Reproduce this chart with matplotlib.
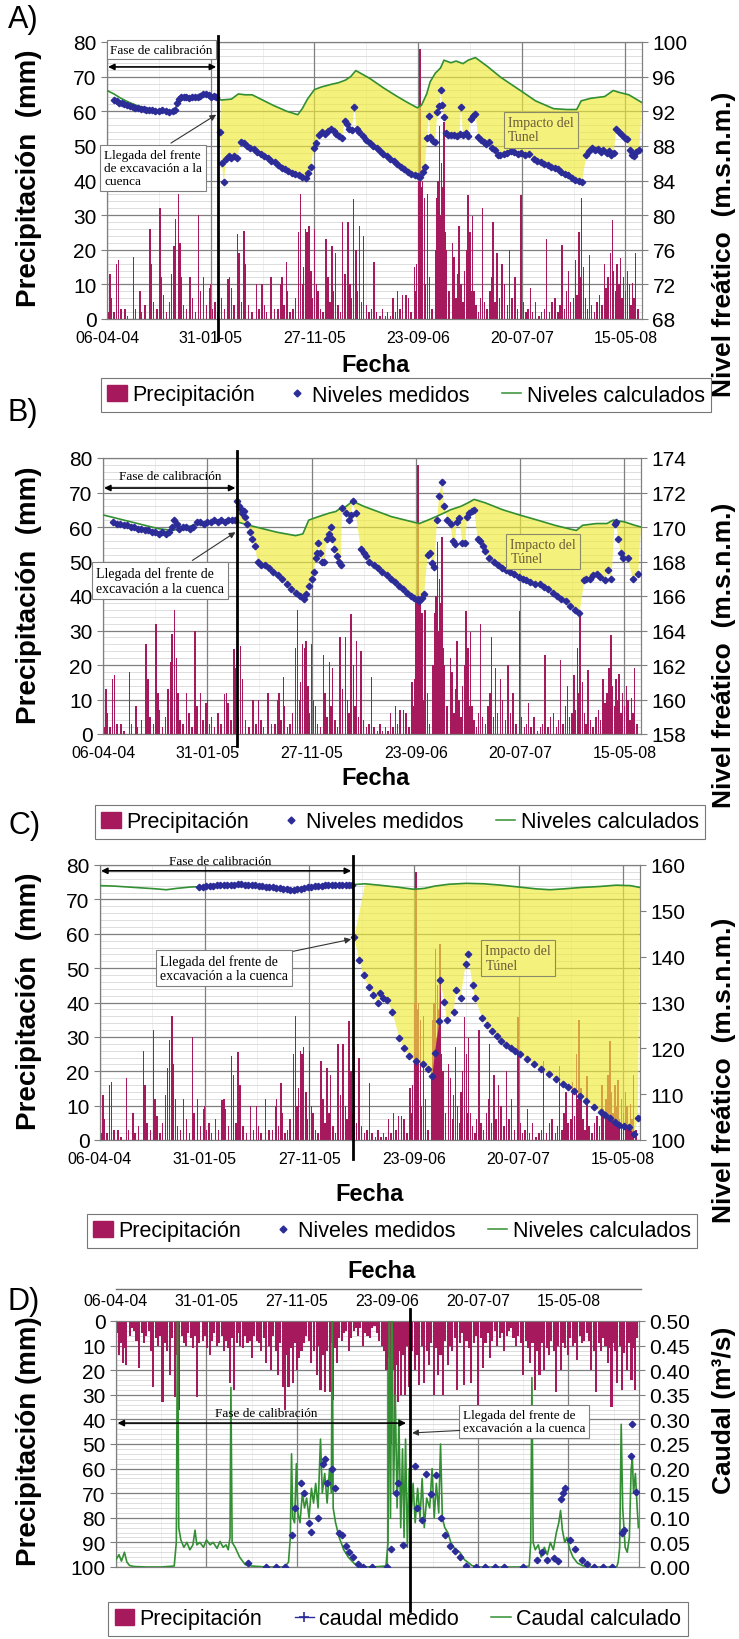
import numpy as np
import matplotlib
matplotlib.use('Agg')
import matplotlib.pyplot as plt
import matplotlib.transforms as mtransforms
from matplotlib.lines import Line2D
from matplotlib.patches import Patch
from matplotlib.ticker import MultipleLocator, FormatStrFormatter

plt.rcParams['font.family'] = ['Liberation Sans', 'DejaVu Sans']

# ---------------- data (x in days since 06-04-04) ----------------
date_ticks = [0, 300, 600, 900, 1200, 1500]
date_labels = ['06-04-04', '31-01-05', '27-11-05', '23-09-06', '20-07-07', '15-05-08']

# daily rain used in panels A, B, C (day, mm)
rain_abc = [(3, 2), (9, 13), (12, 6), (20, 2), (28, 16), (33, 17), (40, 3), (52, 3), (60, 1), (76, 18),
            (82, 3), (95, 8), (100, 2), (110, 4), (124, 26), (129, 16), (135, 5), (145, 3), (153, 32),
            (158, 12), (163, 7), (172, 2), (180, 5), (187, 13), (194, 21), (199, 29), (206, 36), (211, 22),
            (216, 12), (222, 4), (230, 3), (240, 12), (248, 6), (256, 2), (265, 30), (270, 8), (280, 12),
            (288, 4), (296, 9), (300, 10), (306, 3), (312, 5), (320, 2), (331, 6), (340, 3), (350, 11.5),
            (355, 12), (360, 9), (368, 4), (377, 24.5), (382, 19), (390, 5), (396, 25.5), (401, 16),
            (410, 4), (420, 2), (432, 10), (440, 3), (448, 10), (455, 4), (462, 2), (475, 12), (485, 3),
            (495, 3), (504, 10), (506, 12), (512, 4), (519, 16.5), (523, 8), (530, 2), (538, 3), (545, 6),
            (554, 25), (560, 36), (565, 10), (569, 15), (574, 26), (579, 25), (584, 27), (590, 14),
            (595, 6), (600, 26), (606, 10), (611, 8), (618, 3), (625, 2), (634, 23), (639, 12), (645, 5),
            (651, 21), (656, 8), (661, 19), (668, 4), (675, 2), (682, 28), (689, 13), (697, 28), (703, 10),
            (708, 6), (714, 34.7), (720, 20), (725, 8), (730, 27), (736, 5), (742, 24), (750, 4), (758, 2),
            (765, 3), (773, 16.5), (780, 2), (790, 1), (797, 3), (805, 1), (812, 2), (820, 1), (827, 6),
            (834, 2), (841, 8), (848, 3), (855, 7), (865, 7), (872, 6), (880, 2), (889, 15), (893, 8),
            (896, 16), (901, 40), (906, 78), (910, 38), (913, 40), (918, 35), (922, 10), (927, 36),
            (933, 12), (940, 3), (950, 20), (955, 35), (958, 40), (962, 55.7), (965, 30), (968, 45),
            (972, 38), (975, 57), (979, 25), (983, 20), (990, 8), (999, 22), (1004, 18), (1010, 6),
            (1014, 13), (1019, 27), (1024, 10), (1030, 5), (1035, 14), (1040, 20), (1045, 35.7), (1050, 25),
            (1053, 8), (1057, 29.7), (1062, 8), (1068, 4), (1075, 2), (1080, 6), (1086, 32), (1092, 5),
            (1100, 3), (1108, 8), (1113, 12), (1117, 28), (1123, 5), (1129, 19), (1135, 6), (1143, 16),
            (1150, 10), (1158, 4), (1165, 20), (1172, 6), (1180, 12), (1188, 3), (1198, 35.7), (1205, 5),
            (1212, 2), (1218, 3), (1225, 9), (1232, 2), (1240, 5), (1250, 1), (1258, 2), (1265, 3),
            (1272, 23), (1280, 2), (1288, 5), (1296, 6), (1305, 2), (1311, 4), (1317, 21.5), (1324, 3),
            (1330, 8), (1336, 14), (1342, 5), (1350, 6), (1355, 17), (1360, 7), (1366, 25), (1370, 12),
            (1373, 35), (1379, 15), (1385, 6), (1390, 3), (1396, 18.5), (1402, 4), (1410, 2), (1418, 5),
            (1425, 7), (1432, 4), (1439, 16), (1444, 9), (1450, 12), (1456, 19), (1462, 28.7), (1466, 14),
            (1471, 8), (1476, 16), (1481, 10), (1485, 17.5), (1490, 6), (1495, 12), (1500, 8), (1506, 14),
            (1511, 10), (1516, 4), (1520, 10.5), (1525, 6), (1530, 19), (1536, 3)]

# panel A levels (m.s.n.m.)
calc_a = [(0, 94.4), (20, 94.0), (40, 93.5), (60, 93.1), (90, 92.6), (130, 92.2), (170, 92.0), (195, 92.1),
          (210, 93.4), (250, 93.6), (280, 94.0), (318, 93.6), (330, 93.3), (360, 93.4), (380, 94.0),
          (400, 93.9), (420, 93.9), (440, 93.5), (480, 92.7), (520, 92.0), (552, 91.6), (565, 92.3),
          (580, 93.4), (600, 94.5), (620, 94.8), (648, 95.1), (670, 95.3), (690, 95.6), (705, 96.0),
          (720, 96.7), (760, 95.8), (800, 94.7), (840, 93.7), (870, 93.0), (898, 92.4), (910, 92.7),
          (925, 94.0), (935, 95.4), (950, 96.4), (965, 97.0), (975, 97.9), (995, 97.6), (1010, 97.8),
          (1030, 97.5), (1045, 97.9), (1066, 98.2), (1100, 97.2), (1140, 95.9), (1196, 94.4),
          (1240, 93.2), (1292, 92.3), (1330, 92.2), (1359, 92.2), (1372, 93.2), (1400, 93.5),
          (1440, 93.7), (1465, 94.4), (1480, 94.2), (1510, 93.9), (1548, 93.0)]
meas_a = [(20, 93.3), (28, 93.2), (35, 93.0), (42, 92.9), (50, 92.8), (58, 92.7), (66, 92.6), (74, 92.5),
          (82, 92.4), (90, 92.4), (98, 92.3), (106, 92.3), (114, 92.2), (122, 92.1), (130, 92.1),
          (140, 92.0), (150, 92.0), (160, 92.1), (170, 92.0), (180, 91.9), (190, 92.0), (196, 92.2),
          (202, 92.9), (208, 93.4), (215, 93.6), (222, 93.6), (230, 93.6), (238, 93.5), (246, 93.6),
          (254, 93.7), (262, 93.6), (270, 93.8), (278, 94.0), (286, 94.0), (294, 93.9), (302, 93.7),
          (310, 93.8), (316, 93.7),
          (327, 89.6), (332, 86.0), (338, 83.8), (345, 86.5), (352, 86.8), (360, 86.6), (368, 86.8),
          (376, 86.6), (387, 88.4), (395, 88.3), (405, 88.0), (415, 87.8), (425, 87.6), (435, 87.3),
          (445, 87.1), (455, 86.8), (465, 86.6), (475, 86.3), (485, 86.1), (495, 85.8), (505, 85.5),
          (515, 85.3), (525, 85.1), (535, 84.9), (545, 84.8), (555, 84.6), (565, 84.4), (575, 84.3),
          (582, 84.9), (590, 85.6), (598, 87.7), (606, 88.3), (614, 89.2), (622, 89.6), (630, 89.4),
          (640, 89.7), (648, 90.0), (656, 89.7), (664, 89.4), (672, 89.1), (680, 88.9), (688, 90.9),
          (694, 90.5), (700, 90.0), (708, 89.8), (716, 92.5), (722, 90.0), (730, 89.6), (740, 89.1),
          (750, 88.7), (760, 88.3), (770, 88.0), (780, 87.7), (790, 87.4), (800, 87.1), (810, 86.8),
          (820, 86.5), (830, 86.2), (840, 85.9), (850, 85.6), (860, 85.3), (870, 85.0), (880, 84.8),
          (890, 84.6), (900, 84.5), (906, 84.4), (913, 85.0), (920, 85.6), (926, 88.9), (931, 91.5),
          (936, 89.0), (942, 88.6), (949, 88.4), (956, 91.9), (962, 92.6), (966, 94.4), (970, 92.7),
          (976, 91.3), (982, 89.5), (988, 89.3), (996, 89.2), (1005, 89.3), (1013, 89.1), (1020, 89.4),
          (1024, 92.5), (1030, 89.3), (1038, 89.5), (1044, 89.1), (1052, 91.1), (1058, 91.4),
          (1066, 91.7), (1074, 89.0), (1082, 88.7), (1090, 88.5), (1098, 88.2), (1106, 88.4),
          (1114, 87.7), (1122, 87.5), (1130, 87.0), (1138, 86.9), (1148, 87.1), (1158, 87.2),
          (1168, 87.4), (1178, 87.3), (1188, 87.1), (1198, 87.2), (1210, 87.0), (1220, 87.1),
          (1235, 86.5), (1245, 86.3), (1255, 86.1), (1265, 85.9), (1275, 85.8), (1285, 85.6),
          (1295, 85.5), (1305, 85.3), (1315, 85.0), (1325, 84.8), (1335, 84.6), (1345, 84.3),
          (1355, 84.1), (1365, 84.0), (1374, 83.8), (1387, 86.9), (1395, 87.4), (1403, 87.7),
          (1412, 87.5), (1420, 87.6), (1428, 87.3), (1436, 87.5), (1446, 87.2), (1452, 87.4),
          (1458, 87.0), (1466, 87.2), (1474, 90.0), (1482, 89.6), (1490, 89.3), (1498, 88.9),
          (1504, 88.8), (1512, 87.5), (1518, 87.0), (1525, 86.8), (1532, 87.3), (1540, 87.5)]

# panel B levels
calc_b = [(0, 170.7), (40, 170.5), (80, 170.3), (120, 170.1), (160, 169.9), (200, 169.8), (240, 170.0),
          (280, 170.2), (320, 170.3), (385, 170.3), (420, 170.1), (460, 169.9), (500, 169.7),
          (554, 169.5), (575, 169.6), (592, 170.4), (620, 170.6), (650, 170.8), (670, 170.9),
          (684, 171.1), (700, 171.2), (718, 171.5), (750, 171.2), (790, 170.9), (830, 170.6),
          (870, 170.4), (910, 170.2), (935, 170.4), (958, 170.6), (980, 170.8), (1000, 171.0),
          (1030, 171.2), (1050, 171.4), (1068, 171.6), (1100, 171.4), (1150, 171.0), (1198, 170.7),
          (1250, 170.4), (1300, 170.1), (1340, 169.9), (1362, 169.8), (1380, 170.1), (1420, 170.2),
          (1450, 170.2), (1468, 170.4), (1500, 170.3), (1530, 170.1), (1548, 170.0)]
meas_b = [(30, 170.3), (40, 170.2), (50, 170.2), (60, 170.1), (70, 170.1), (80, 170.0), (90, 170.0),
          (100, 169.9), (110, 169.9), (120, 169.8), (130, 169.8), (140, 169.7), (150, 169.7),
          (160, 169.6), (170, 169.7), (180, 169.6), (190, 169.7), (198, 170.0), (205, 170.4),
          (212, 170.2), (220, 169.9), (230, 170.0), (240, 170.0), (250, 169.9), (260, 170.0),
          (270, 170.3), (280, 170.3), (290, 170.2), (300, 170.3), (310, 170.3), (320, 170.4),
          (330, 170.3), (340, 170.4), (350, 170.3), (360, 170.4), (370, 170.4), (380, 170.4),
          (385, 171.5), (390, 171.2), (395, 171.1), (400, 170.8), (405, 170.9), (410, 170.6),
          (415, 170.2), (422, 169.7), (430, 169.3), (437, 168.9), (445, 168.0), (455, 167.8),
          (465, 167.8), (477, 167.6), (490, 167.4), (503, 167.2), (516, 167.0), (530, 166.7),
          (542, 166.4), (554, 166.2), (566, 166.0), (578, 165.8), (585, 166.1), (592, 166.6),
          (600, 167.0), (607, 167.4), (612, 168.2), (616, 168.5), (620, 169.1), (625, 168.5),
          (630, 168.0), (637, 168.0), (645, 169.3), (650, 169.6), (655, 170.0), (660, 169.3),
          (665, 168.7), (672, 168.3), (678, 168.0), (684, 167.8), (688, 171.1), (698, 170.8),
          (708, 170.4), (713, 170.7), (718, 171.5), (727, 170.8), (742, 168.7), (750, 168.5),
          (758, 168.3), (766, 168.0), (780, 167.8), (792, 167.6), (804, 167.4), (816, 167.2),
          (828, 167.0), (840, 166.8), (852, 166.6), (864, 166.4), (876, 166.2), (886, 166.0),
          (895, 165.9), (905, 165.8), (910, 165.7), (917, 165.9), (924, 166.1), (934, 168.4),
          (940, 168.5), (947, 167.9), (953, 167.7), (961, 170.4), (967, 171.8), (975, 172.6),
          (982, 171.2), (991, 170.4), (1000, 170.2), (1006, 169.2), (1012, 169.0), (1018, 170.3),
          (1025, 170.5), (1034, 169.1), (1042, 169.1), (1048, 170.6), (1054, 170.8), (1061, 170.9),
          (1068, 171.0), (1078, 169.3), (1085, 169.2), (1092, 168.9), (1100, 168.6), (1111, 168.2),
          (1124, 168.0), (1136, 167.8), (1148, 167.6), (1160, 167.5), (1172, 167.4), (1184, 167.3),
          (1196, 167.1), (1208, 167.0), (1218, 166.9), (1230, 166.8), (1244, 166.7), (1256, 166.7),
          (1268, 166.5), (1280, 166.4), (1294, 166.2), (1306, 166.0), (1318, 165.8), (1333, 165.7),
          (1345, 165.4), (1358, 165.2), (1371, 165.0), (1385, 166.9), (1391, 167.0), (1400, 167.0),
          (1410, 167.2), (1420, 167.3), (1430, 167.1), (1444, 166.9), (1453, 167.5), (1463, 167.0),
          (1472, 170.2), (1477, 170.3), (1482, 169.3), (1490, 168.5), (1497, 168.2), (1510, 168.2),
          (1524, 167.0), (1540, 167.3)]

# panel C levels
calc_c = [(0, 155.5), (40, 155.4), (80, 155.2), (120, 155.0), (160, 154.8), (190, 154.6), (220, 154.9),
          (260, 155.2), (300, 155.3), (350, 155.6), (400, 155.7), (440, 155.6), (480, 155.3),
          (520, 154.9), (550, 154.7), (585, 155.0), (620, 155.4), (660, 155.6), (700, 155.6),
          (722, 155.7), (760, 155.9), (800, 155.6), (850, 155.2), (900, 154.7), (930, 154.9),
          (960, 155.4), (1000, 155.8), (1050, 156.0), (1100, 155.9), (1150, 155.6), (1200, 155.2),
          (1250, 154.8), (1290, 154.6), (1330, 154.8), (1380, 155.1), (1430, 155.3), (1480, 155.6),
          (1520, 155.5), (1548, 155.1)]
meas_c = [(284, 155.3), (295, 155.3), (305, 155.4), (315, 155.4), (325, 155.5), (335, 155.6),
          (345, 155.6), (355, 155.7), (365, 155.6), (375, 155.6), (385, 155.7), (395, 155.8),
          (405, 155.8), (415, 155.7), (425, 155.6), (435, 155.7), (445, 155.6), (455, 155.5),
          (465, 155.4), (475, 155.3), (485, 155.3), (495, 155.1), (505, 155.0), (515, 154.9),
          (525, 154.8), (535, 154.7), (545, 154.6), (555, 154.6), (565, 154.7), (575, 154.8),
          (585, 155.0), (595, 155.2), (605, 155.3), (615, 155.4), (625, 155.5), (635, 155.5),
          (645, 155.6), (655, 155.6), (665, 155.6), (675, 155.7), (685, 155.6), (695, 155.6),
          (705, 155.7), (715, 155.7), (722, 155.7),
          (729, 144.2), (743, 139.2), (756, 135.9), (770, 133.4), (783, 131.6), (797, 129.8),
          (804, 132.0), (810, 130.9), (824, 130.5), (838, 128.0), (858, 122.3), (871, 120.1),
          (885, 118.3), (905, 117.2), (926, 116.5), (939, 115.5), (953, 114.0), (960, 119.0),
          (973, 125.9), (976, 134.9), (987, 130.2), (994, 126.2), (1014, 128.0), (1020, 132.7),
          (1034, 130.9), (1048, 138.4), (1055, 140.6), (1068, 133.8), (1075, 130.9), (1096, 126.6),
          (1110, 125.0), (1123, 123.7), (1137, 122.6), (1150, 121.6), (1163, 120.8), (1177, 120.1),
          (1190, 119.4), (1204, 118.7), (1224, 117.6), (1245, 116.5), (1265, 115.4), (1286, 114.4),
          (1306, 113.3), (1326, 112.2), (1343, 111.5), (1360, 110.8), (1377, 109.7), (1394, 108.6),
          (1415, 107.3), (1435, 106.1), (1448, 105.4), (1462, 104.7), (1476, 104.0), (1489, 103.2),
          (1503, 103.1), (1516, 102.9), (1530, 101.4), (1542, 104.7)]

# panel D: rain (day, mm) and discharge (day, m3/s)
rain_d = [(9, 14), (22, 17), (34, 18), (61, 4), (76, 19), (100, 6), (123, 27), (154, 33), (178, 22),
          (197, 31), (209, 36), (233, 10), (248, 7), (268, 31), (287, 8), (311, 14), (334, 10),
          (358, 12), (378, 25), (392, 28), (412, 10), (436, 9), (451, 15), (467, 8), (482, 12),
          (498, 17), (514, 20), (537, 22), (553, 27), (561, 36), (572, 27), (587, 25), (600, 20),
          (615, 12), (631, 6), (647, 17), (665, 22), (678, 28), (693, 29), (709, 29), (720, 32),
          (732, 17), (748, 8), (772, 12), (795, 3), (818, 10), (834, 6), (857, 2), (881, 10),
          (897, 20), (912, 50), (925, 45), (936, 33), (946, 30), (959, 30), (972, 27), (990, 20),
          (1006, 26), (1022, 25), (1037, 18), (1053, 30), (1068, 22), (1084, 30), (1100, 18),
          (1115, 12), (1131, 28), (1154, 26), (1178, 25), (1201, 35), (1217, 19), (1240, 15),
          (1264, 10), (1287, 12), (1311, 3), (1326, 10), (1350, 22), (1373, 17), (1389, 28),
          (1404, 22), (1420, 20), (1435, 14), (1459, 29), (1474, 20), (1498, 14), (1514, 10),
          (1529, 16), (1553, 8), (1576, 20), (1592, 29), (1607, 12), (1631, 17), (1643, 35),
          (1662, 25), (1678, 28), (1693, 20), (1709, 24), (1721, 28),
          (3, 5), (15, 9), (28, 11), (45, 6), (52, 3), (68, 8), (85, 5), (92, 9), (110, 4), (116, 12),
          (132, 7), (140, 10), (147, 6), (163, 9), (170, 12), (186, 7), (203, 14), (218, 6), (225, 9),
          (240, 5), (256, 11), (262, 6), (276, 9), (295, 6), (303, 11), (318, 8), (326, 5), (342, 9),
          (350, 6), (366, 8), (372, 11), (385, 7), (400, 9), (405, 5), (420, 11), (428, 6), (443, 8),
          (459, 6), (474, 9), (490, 7), (506, 10), (522, 6), (530, 12), (545, 9), (567, 14), (580, 11),
          (594, 9), (608, 15), (623, 9), (639, 8), (655, 12), (672, 10), (686, 14), (701, 12),
          (715, 9), (726, 11), (740, 7), (756, 5), (764, 4), (780, 7), (788, 4), (803, 6), (810, 3),
          (826, 5), (842, 7), (850, 3), (865, 5), (873, 8), (889, 12), (905, 15), (918, 20), (930, 18),
          (941, 12), (952, 14), (965, 10), (980, 12), (998, 14), (1014, 10), (1030, 12), (1045, 9),
          (1060, 11), (1076, 14), (1092, 8), (1108, 10), (1123, 7), (1140, 9), (1147, 5), (1162, 8),
          (1170, 11), (1186, 9), (1193, 6), (1209, 7), (1225, 9), (1232, 5), (1248, 8), (1256, 4),
          (1272, 7), (1280, 5), (1295, 6), (1303, 4), (1318, 7), (1334, 6), (1342, 9), (1358, 8),
          (1366, 11), (1381, 9), (1396, 12), (1412, 9), (1428, 11), (1443, 8), (1451, 12), (1466, 10),
          (1482, 9), (1490, 11), (1506, 7), (1521, 9), (1537, 6), (1545, 9), (1561, 5), (1569, 8),
          (1584, 12), (1600, 9), (1615, 7), (1623, 10), (1637, 11), (1650, 9), (1656, 12), (1670, 10),
          (1685, 13), (1701, 9), (1715, 11), (1728, 7)]
calc_d = [(0, 0.015), (10, 0.025), (18, 0.012), (28, 0.03), (36, 0.01), (45, 0.003), (60, 0.001),
          (100, 0.0), (150, 0.0), (193, 0.002), (200, 0.05), (204, 0.55), (208, 0.08), (215, 0.055),
          (225, 0.04), (235, 0.05), (245, 0.035), (255, 0.045), (262, 0.075), (268, 0.045), (278, 0.05),
          (290, 0.04), (300, 0.055), (312, 0.045), (322, 0.05), (335, 0.038), (345, 0.052), (355, 0.04),
          (365, 0.045), (372, 0.035), (378, 0.06), (381, 0.365), (385, 0.05), (395, 0.04), (410, 0.02),
          (428, 0.005), (450, 0.002), (500, 0.0), (560, 0.0), (572, 0.01), (578, 0.06), (582, 0.23),
          (586, 0.1), (592, 0.09), (598, 0.21), (603, 0.11), (610, 0.09), (618, 0.15), (625, 0.12),
          (632, 0.14), (640, 0.1), (648, 0.16), (655, 0.13), (662, 0.17), (670, 0.12), (678, 0.26),
          (684, 0.15), (692, 0.19), (700, 0.13), (708, 0.2), (714, 0.15), (717, 0.55), (720, 0.12),
          (728, 0.09), (740, 0.06), (755, 0.035), (770, 0.02), (790, 0.007), (805, 0.001), (850, 0.0),
          (895, 0.002), (902, 0.05), (906, 0.55), (910, 0.1), (915, 0.55), (920, 0.15), (926, 0.35),
          (932, 0.12), (938, 0.3), (944, 0.08), (950, 0.24), (955, 0.06), (960, 0.26), (966, 0.04),
          (972, 0.2), (978, 0.1), (985, 0.17), (992, 0.09), (1000, 0.16), (1008, 0.1), (1015, 0.18),
          (1022, 0.08), (1030, 0.14), (1040, 0.12), (1048, 0.2), (1055, 0.1), (1062, 0.17), (1070, 0.11),
          (1076, 0.25), (1082, 0.1), (1090, 0.08), (1100, 0.07), (1110, 0.05), (1125, 0.035),
          (1140, 0.03), (1155, 0.015), (1170, 0.008), (1180, 0.003), (1200, 0.0), (1300, 0.0),
          (1350, 0.0), (1370, 0.002), (1375, 0.05), (1379, 0.385), (1383, 0.05), (1390, 0.035),
          (1400, 0.045), (1410, 0.02), (1420, 0.04), (1430, 0.025), (1440, 0.05), (1450, 0.035),
          (1460, 0.07), (1468, 0.09), (1474, 0.115), (1480, 0.075), (1488, 0.05), (1495, 0.06),
          (1505, 0.035), (1515, 0.02), (1530, 0.008), (1550, 0.002), (1570, 0.0), (1660, 0.0),
          (1665, 0.01), (1670, 0.04), (1675, 0.29), (1680, 0.12), (1688, 0.04), (1695, 0.03),
          (1702, 0.06), (1708, 0.2), (1712, 0.22), (1716, 0.15), (1722, 0.19), (1728, 0.12), (1732, 0.08)]
meas_d = [(436, 0.009), (498, 0.0), (529, 0.0), (561, 0.0), (584, 0.066), (592, 0.12), (615, 0.17),
          (623, 0.15), (639, 0.09), (647, 0.072), (670, 0.10), (686, 0.21), (693, 0.22), (701, 0.17),
          (717, 0.20), (725, 0.16), (740, 0.07), (748, 0.066), (764, 0.042), (772, 0.03), (787, 0.02),
          (803, 0.006), (818, 0.0), (850, 0.0), (897, 0.0), (912, 0.036), (928, 0.15), (936, 0.17),
          (951, 0.045), (990, 0.205), (998, 0.12), (1014, 0.096), (1029, 0.19), (1045, 0.148),
          (1060, 0.187), (1076, 0.10), (1092, 0.066), (1107, 0.042), (1123, 0.033), (1139, 0.02),
          (1162, 0.003), (1193, 0.0), (1225, 0.0), (1256, 0.0), (1287, 0.0), (1350, 0.0), (1396, 0.015),
          (1412, 0.03), (1428, 0.015), (1451, 0.018), (1467, 0.012), (1474, 0.139), (1482, 0.15),
          (1490, 0.16), (1506, 0.054), (1521, 0.036), (1545, 0.015), (1560, 0.006), (1584, 0.0),
          (1615, 0.0), (1646, 0.0), (1678, 0.07), (1685, 0.075), (1709, 0.226), (1712, 0.29),
          (1724, 0.152)]

# day the excavation front reaches each basin
arrival = {'A': 320, 'B': 385, 'C': 724, 'D': 975}

# ---------------- style ----------------
W, H = 739, 1640
MAG = '#a6195c'
BLUE = '#2c2c99'
GREEN = '#338f33'
YEL = '#f0ea37'
BOXYEL = '#f5f17d'
GRID = '#7f7f7f'
MINOR = '#d8d8d8'
SERIF = ['Liberation Serif', 'DejaVu Serif']
XMAX = 1548
XMAX_D = 1734

fig = plt.figure(figsize=(W / 100, H / 100), dpi=100)


def rect(l, t, r, b):
    return [l / W, 1 - b / H, (r - l) / W, (b - t) / H]


def fx(x):
    return x / W


def fy(y):
    return 1 - y / H


def style_axes(ax, ax2):
    for a in (ax, ax2):
        for s in a.spines.values():
            s.set_color(GRID)
    ax.yaxis.set_major_locator(MultipleLocator(10))
    ax.yaxis.set_minor_locator(MultipleLocator(2))
    ax.xaxis.set_minor_locator(MultipleLocator(150))
    ax.grid(which='major', axis='y', color=GRID, lw=0.9)
    ax.grid(which='minor', axis='y', color=MINOR, lw=0.6)
    ax.grid(which='minor', axis='x', color='#ebebeb', lw=0.6)
    ax.set_axisbelow(True)
    # date gridlines on top of the light horizontal ones
    for t in date_ticks:
        ax.axvline(t, color=GRID, lw=0.9, zorder=1)
    ax.tick_params(which='minor', length=0)
    ax.tick_params(axis='y', labelsize=15, length=4, color=GRID)
    ax.tick_params(axis='x', labelsize=11.5, length=0, pad=8)
    ax2.tick_params(axis='y', labelsize=15, length=4, color=GRID)


def legend(ax, handles, labels, cx, cy):
    leg = ax.legend(handles, labels, ncol=3, loc='center', bbox_to_anchor=(fx(cx), fy(cy)),
                    bbox_transform=fig.transFigure, fontsize=15.5, frameon=True, fancybox=False,
                    edgecolor='#555555', handlelength=0.9, handleheight=0.8, handletextpad=0.25,
                    columnspacing=1.5, borderpad=0.3, borderaxespad=0)
    leg.get_frame().set_linewidth(0.8)
    return leg


def level_panel(key, box, calc, meas, rlim, rstep, line_y):
    ax = fig.add_axes(rect(*box))
    d, mm = zip(*rain_abc)
    ax.bar(d, mm, width=4, color=MAG, linewidth=0, zorder=2)
    ax.set_xlim(0, XMAX)
    ax.set_ylim(0, 80)
    ax.set_xticks(date_ticks, date_labels)
    ax2 = ax.twinx()
    ax2.set_ylim(*rlim)
    ax2.yaxis.set_major_locator(MultipleLocator(rstep))
    style_axes(ax, ax2)

    t0 = arrival[key]
    post_c = [p for p in calc if p[0] >= t0]
    post_m = [p for p in meas if p[0] >= t0]
    poly_x, poly_y = zip(*(post_c + post_m[::-1]))
    ax2.fill(poly_x, poly_y, color=YEL, alpha=0.65, lw=0, zorder=1)
    cx, cy = zip(*calc)
    ax2.plot(cx, cy, color=GREEN, lw=1.2, zorder=3)
    mx, my = zip(*meas)
    ax2.plot(mx, my, ls='', marker='D', ms=3.3, color=BLUE, mec=BLUE, zorder=4)
    ax2.plot([t0, t0], line_y, transform=ax2.get_xaxis_transform(), color='black', lw=2,
             clip_on=False, zorder=6)
    return ax, ax2


def notes(ax, ax2, key, fase, llegada, llegada_txt, arrow_from, arrow_to, impacto, impacto_txt):
    T = ax.transData
    fx_, fy_, fbox, ay, a0, a1 = fase
    kw = dict(boxstyle='square,pad=0.25', fc='white', ec='#808080', lw=0.8) if fbox else None
    ax2.text(fx_, fy_, 'Fase de calibración', transform=T, ha='center', va='center',
             family=SERIF, fontsize=9.5, bbox=kw, zorder=7, clip_on=False)
    ax2.annotate('', xy=(a1, ay), xytext=(a0, ay), xycoords=T, textcoords=T,
                 arrowprops=dict(arrowstyle='<|-|>', color='black', lw=1.2, mutation_scale=9,
                                 shrinkA=0, shrinkB=0), zorder=7)
    lx, ly, lfs = llegada
    ax2.text(lx, ly, llegada_txt, transform=T, ha='left', va='center', family=SERIF,
             fontsize=lfs, linespacing=1.15, zorder=7, clip_on=False,
             bbox=dict(boxstyle='square,pad=0.3', fc='white', ec='#808080', lw=0.8))
    ax2.annotate('', xy=arrow_to, xytext=arrow_from, xycoords=T, textcoords=T,
                 arrowprops=dict(arrowstyle='-|>', color='#333333', lw=0.8, mutation_scale=9,
                                 shrinkA=0, shrinkB=0), zorder=7)
    ix, iy = impacto
    ax2.text(ix, iy, impacto_txt, transform=T, ha='left', va='center', family=SERIF,
             fontsize=10, color='#6a5d3a', linespacing=1.15, zorder=7,
             bbox=dict(boxstyle='square,pad=0.3', fc=BOXYEL, ec='#8a8a6a', lw=0.8))


level_handles = [Patch(facecolor=MAG, edgecolor=MAG),
                 Line2D([], [], ls='', marker='D', ms=3.5, color=BLUE),
                 Line2D([], [], color=GREEN, lw=1.1)]
level_labels = ['Precipitación', 'Niveles medidos', 'Niveles calculados']

# ---------------- panel A ----------------
axA, axA2 = level_panel('A', (107, 43, 642, 320), calc_a, meas_a, (68, 100), 4, (-0.075, 1.02))
notes(axA, axA2, 'A', (158, 77.8, True, 72.8, 3, 316), (-8, 43.6, 9.5),
      'Llegada del frente\nde excavación a la\ncuenca', (185, 50.8), (316, 59),
      (1160, 54.7), 'Impacto del\nTunel')
legend(axA, level_handles, level_labels, 406, 396)

# ---------------- panel B ----------------
axB, axB2 = level_panel('B', (103, 459, 641, 735), calc_b, meas_b, (158, 174), 2, (-0.045, 1.025))
notes(axB, axB2, 'B', (193, 74.8, False, 71.3, 3, 381), (-20, 44.5, 10),
      'Llegada del frente de\nexcavación a la cuenca', (257, 50.3), (381, 58.5),
      (1172, 52.9), 'Impacto del\nTúnel')
legend(axB, level_handles, level_labels, 400, 823)

# ---------------- panel C ----------------
axC, axC2 = level_panel('C', (100, 866, 640, 1141), calc_c, meas_c, (100, 160), 10, (-0.07, 1.033))
notes(axC, axC2, 'C', (345, 81.2, False, 78.3, 3, 720), (172, 50.0, 10),
      'Llegada del frente de\nexcavación a la cuenca', (554, 54.9), (720, 58.4),
      (1105, 52.9), 'Impacto del\nTúnel')
legend(axC, level_handles, level_labels, 392, 1232)

# ---------------- panel D ----------------
axD = fig.add_axes(rect(116, 1322, 639, 1568))
dd, dmm = zip(*rain_d)
axD.bar(dd, dmm, width=7, color=MAG, linewidth=0, zorder=2)
axD.set_xlim(0, XMAX_D)
axD.set_ylim(100, 0)
axD.xaxis.tick_top()
axD.set_xticks(date_ticks, date_labels)
axD2 = axD.twinx()
axD2.set_ylim(0, 0.5)
axD2.yaxis.set_major_locator(MultipleLocator(0.05))
axD2.yaxis.set_major_formatter(FormatStrFormatter('%.2f'))
style_axes(axD, axD2)
axD.tick_params(axis='x', labeltop=True, labelbottom=False, pad=9)
cdx, cdy = zip(*calc_d)
axD2.plot(cdx, cdy, color=GREEN, lw=1.2, zorder=3)
mdx, mdy = zip(*meas_d)
axD2.plot(mdx, mdy, ls='', marker='D', ms=3.3, color=BLUE, zorder=4)

TD = axD.transData
axD2.text(498, 37.5, 'Fase de calibración', transform=TD, ha='center', va='center',
          family=SERIF, fontsize=9.5, zorder=7)
axD2.annotate('', xy=(962, 41.5), xytext=(5, 41.5), xycoords=TD, textcoords=TD,
              arrowprops=dict(arrowstyle='<|-|>', color='black', lw=1.2, mutation_scale=9,
                              shrinkA=0, shrinkB=0), zorder=7)
axD2.text(1150, 40.8, 'Llegada del frente de\nexcavación a la cuenca', transform=TD, ha='left',
          va='center', family=SERIF, fontsize=9.5, linespacing=1.15, zorder=7,
          bbox=dict(boxstyle='square,pad=0.3', fc='white', ec='#808080', lw=0.8))
axD2.annotate('', xy=(982, 45.5), xytext=(1140, 44.5), xycoords=TD, textcoords=TD,
              arrowprops=dict(arrowstyle='-|>', color='#333333', lw=0.8, mutation_scale=9,
                              shrinkA=0, shrinkB=0), zorder=7)

# arrival line for D crosses the legend, so it lives at figure level
blend = mtransforms.blended_transform_factory(axD.transData, fig.transFigure)
fig.add_artist(Line2D([arrival['D'], arrival['D']], [fy(1612), fy(1310)], transform=blend,
                      color='black', lw=2, zorder=10))
fig.add_artist(Line2D([fx(116), fx(641)], [fy(1290), fy(1290)], color='#707070', lw=1))

d_handles = [Patch(facecolor=MAG, edgecolor=MAG),
             Line2D([], [], marker='+', ms=7, mew=1.2, color=BLUE, lw=1),
             Line2D([], [], color=GREEN, lw=1.1)]
legend(axD, d_handles, ['Precipitación', 'caudal medido', 'Caudal calculado'], 398, 1620)

# ---------------- texts ----------------
for lab, y in [('A)', 20), ('B)', 413), ('C)', 826), ('D)', 1302)]:
    fig.text(fx(8), fy(y), lab, fontsize=22, ha='left', va='center')

for y in [178, 595, 1001, 1441]:
    t = 'Precipitación  (mm)' if y < 1400 else 'Precipitación (mm)'
    fig.text(fx(29), fy(y), t, rotation=90, fontsize=20, fontweight='bold', ha='center', va='center')

for y in [244, 655, 1070]:
    fig.text(fx(724), fy(y), 'Nivel freático  (m.s.n.m.)', rotation=90, fontsize=19,
             fontweight='bold', ha='center', va='center')
fig.text(fx(724), fy(1410), 'Caudal (m³/s)', rotation=90, fontsize=19, fontweight='bold',
         ha='center', va='center')

for x, y in [(376, 366), (376, 779), (370, 1195), (382, 1272)]:
    fig.text(fx(x), fy(y), 'Fecha', fontsize=17, fontweight='bold', ha='center', va='center')

fig.savefig('out.png', dpi=100)
